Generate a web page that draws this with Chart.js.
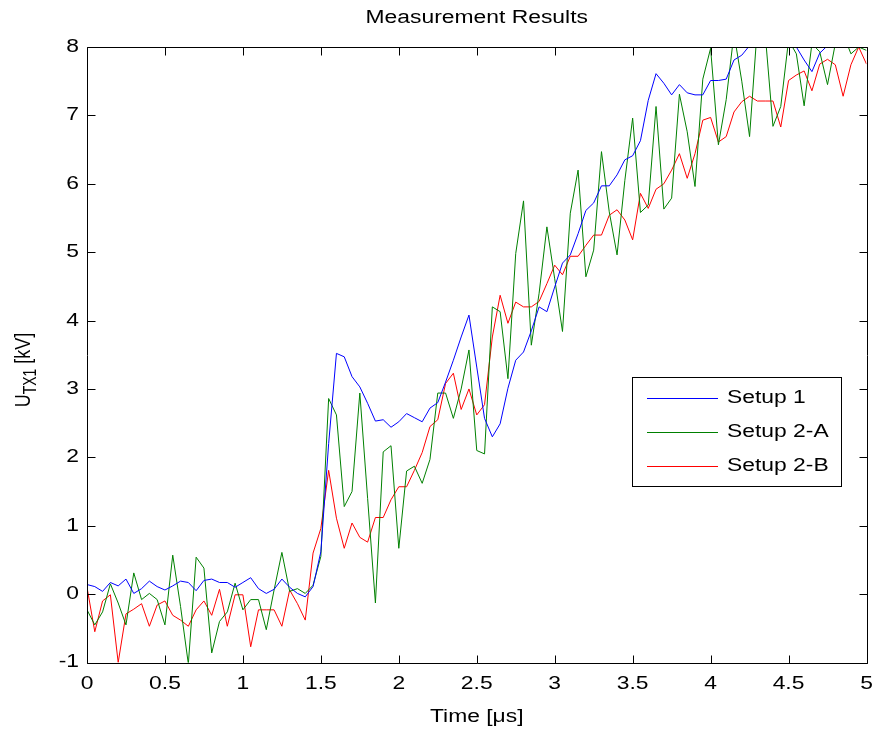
<!DOCTYPE html>
<html>
<head>
<meta charset="utf-8">
<title>Measurement Results</title>
<script src="https://cdn.jsdelivr.net/npm/chart.js@4/dist/chart.umd.min.js"></script>
<style>
  html, body { margin: 0; padding: 0; background: #ffffff; }
  #wrap { position: relative; width: 879px; height: 731px; }
</style>
</head>
<body>
<div id="wrap"><canvas id="chart"></canvas></div>
<script>
// Sample instants (µs)
const timeUs = [
  0, 0.05, 0.1, 0.15, 0.2, 0.25, 0.3, 0.35, 0.4, 0.45,
  0.5, 0.55, 0.6, 0.65, 0.7, 0.75, 0.8, 0.85, 0.9, 0.95,
  1, 1.05, 1.1, 1.15, 1.2, 1.25, 1.3, 1.35, 1.4, 1.45,
  1.5, 1.55, 1.6, 1.65, 1.7, 1.75, 1.8, 1.85, 1.9, 1.95,
  2, 2.05, 2.1, 2.15, 2.2, 2.25, 2.3, 2.35, 2.4, 2.45,
  2.5, 2.55, 2.6, 2.65, 2.7, 2.75, 2.8, 2.85, 2.9, 2.95,
  3, 3.05, 3.1, 3.15, 3.2, 3.25, 3.3, 3.35, 3.4, 3.45,
  3.5, 3.55, 3.6, 3.65, 3.7, 3.75, 3.8, 3.85, 3.9, 3.95,
  4, 4.05, 4.1, 4.15, 4.2, 4.25, 4.3, 4.35, 4.4, 4.45,
  4.5, 4.55, 4.6, 4.65, 4.7, 4.75, 4.8, 4.85, 4.9, 4.95,
  5
];

// U_TX1 in kV for each setup
const setup1 = [
  0.14, 0.11, 0.04, 0.17, 0.12, 0.22, 0.01, 0.08, 0.19, 0.11,
  0.06, 0.12, 0.19, 0.17, 0.05, 0.20, 0.22, 0.17, 0.17, 0.10,
  0.17, 0.24, 0.08, 0.01, 0.07, 0.22, 0.10, 0.01, -0.04, 0.11,
  0.62, 2.20, 3.52, 3.47, 3.18, 3.03, 2.79, 2.53, 2.55, 2.44,
  2.52, 2.64, 2.58, 2.52, 2.72, 2.80, 3.10, 3.42, 3.76, 4.08,
  3.32, 2.57, 2.30, 2.49, 3.01, 3.42, 3.54, 3.85, 4.20, 4.13,
  4.49, 4.84, 4.96, 5.27, 5.61, 5.72, 5.97, 5.97, 6.13, 6.35,
  6.41, 6.63, 7.22, 7.61, 7.47, 7.30, 7.45, 7.33, 7.30, 7.30,
  7.51, 7.51, 7.53, 7.81, 7.88, 8.02, 8.15, 8.25, 8.20, 8.15,
  8.10, 8.00, 7.81, 7.64, 7.91, 8.02, 8.12, 8.20, 8.15, 8.20,
  8.25
];
const setup2A = [
  -0.23, -0.45, -0.26, 0.15, -0.13, -0.45, 0.31, -0.08, 0.01, -0.08,
  -0.45, 0.57, -0.18, -1.02, 0.54, 0.38, -0.86, -0.40, -0.26, 0.16,
  -0.23, -0.08, -0.08, -0.52, 0.06, 0.61, 0.04, 0.08, 0.01, 0.13,
  0.55, 2.86, 2.62, 1.28, 1.50, 2.94, 1.40, -0.13, 2.08, 2.17,
  0.67, 1.80, 1.87, 1.62, 1.97, 2.94, 2.94, 2.57, 3.00, 3.57,
  2.10, 2.05, 4.20, 4.13, 3.15, 4.98, 5.75, 3.64, 4.40, 5.37,
  4.61, 3.84, 5.57, 6.20, 4.64, 5.03, 6.47, 5.59, 4.96, 6.05,
  6.96, 5.58, 5.69, 7.13, 5.63, 5.79, 7.31, 6.76, 5.96, 7.53,
  7.98, 6.57, 7.23, 8.20, 7.50, 6.69, 8.30, 8.20, 6.84, 7.13,
  8.10, 7.90, 7.14, 8.05, 7.93, 7.45, 8.05, 8.20, 7.90, 8.00,
  7.95
];
const setup2B = [
  0.10, -0.55, -0.10, -0.01, -1.00, -0.29, -0.22, -0.14, -0.47, -0.16,
  -0.10, -0.31, -0.38, -0.47, -0.23, -0.10, -0.31, 0.07, -0.47, -0.01,
  -0.01, -0.77, -0.23, -0.23, -0.23, -0.47, 0.06, -0.14, -0.38, 0.60,
  0.96, 1.81, 1.11, 0.67, 1.04, 0.83, 0.76, 1.12, 1.12, 1.38,
  1.57, 1.57, 1.81, 2.07, 2.45, 2.55, 3.08, 3.23, 2.70, 3.00,
  2.62, 2.77, 3.76, 4.37, 3.96, 4.27, 4.20, 4.20, 4.28, 4.54,
  4.81, 4.67, 4.94, 4.94, 5.10, 5.25, 5.25, 5.54, 5.62, 5.47,
  5.18, 5.86, 5.64, 5.92, 6.00, 6.20, 6.44, 6.08, 6.44, 6.93,
  6.97, 6.61, 6.69, 7.05, 7.20, 7.28, 7.21, 7.21, 7.21, 6.83,
  7.51, 7.59, 7.65, 7.36, 7.75, 7.82, 7.74, 7.28, 7.74, 8.00,
  7.75
];

const seriesNames = ['Setup 1', 'Setup 2-A', 'Setup 2-B'];
const seriesColors = ['#0000ff', '#008000', '#ff0000'];

const xTicks = [0, 0.5, 1, 1.5, 2, 2.5, 3, 3.5, 4, 4.5, 5];
const xTickLabels = ['0', '0.5', '1', '1.5', '2', '2.5', '3', '3.5', '4', '4.5', '5'];
const yTicks = [-1, 0, 1, 2, 3, 4, 5, 6, 7, 8];
const yTickLabels = ['-1', '0', '1', '2', '3', '4', '5', '6', '7', '8'];

const titleText = 'Measurement Results';
const xTitle = 'Time [\u03bcs]';

// Text styling: glyphs are drawn slightly widened
const FONT_FAMILY = '"Liberation Sans", Arial, Helvetica, sans-serif';
const FONT_PX = 18;
const STRETCH = 1.27;

function toPoints(xs, ys) {
  return xs.map((x, i) => ({ x: x, y: ys[i] }));
}

function putText(ctx, str, x, y, align, baseline, sizePx) {
  ctx.save();
  ctx.translate(x, y);
  ctx.scale(STRETCH, 1);
  ctx.font = sizePx + 'px ' + FONT_FAMILY;
  ctx.textAlign = align;
  ctx.textBaseline = baseline;
  ctx.fillStyle = '#000000';
  ctx.fillText(str, 0, 0);
  ctx.restore();
}

// Boxed axes with inward ticks, tick labels, titles and legend
const boxedAxes = {
  id: 'boxedAxes',
  afterDatasetsDraw(chart) {
    const ctx = chart.ctx;
    const area = chart.chartArea;
    const xs = chart.scales.x;
    const ys = chart.scales.y;
    const tickLen = 8;
    const L = Math.round(area.left) + 0.5;
    const R = Math.round(area.right) + 0.5;
    const T = Math.round(area.top) + 0.5;
    const B = Math.round(area.bottom) + 0.5;

    ctx.save();
    ctx.strokeStyle = '#000000';
    ctx.lineWidth = 1;
    ctx.beginPath();
    ctx.rect(L, T, R - L, B - T);
    ctx.stroke();

    ctx.beginPath();
    xTicks.forEach(v => {
      const px = Math.round(xs.getPixelForValue(v)) + 0.5;
      ctx.moveTo(px, B); ctx.lineTo(px, B - tickLen);
      ctx.moveTo(px, T); ctx.lineTo(px, T + tickLen);
    });
    yTicks.forEach(v => {
      const py = Math.round(ys.getPixelForValue(v)) + 0.5;
      ctx.moveTo(L, py); ctx.lineTo(L + tickLen, py);
      ctx.moveTo(R, py); ctx.lineTo(R - tickLen, py);
    });
    ctx.stroke();
    ctx.restore();

    // tick labels
    xTicks.forEach((v, i) => {
      putText(ctx, xTickLabels[i], xs.getPixelForValue(v), area.bottom + 13, 'center', 'top', FONT_PX);
    });
    yTicks.forEach((v, i) => {
      putText(ctx, yTickLabels[i], area.left - 8, ys.getPixelForValue(v), 'right', 'middle', FONT_PX);
    });

    // title and x-axis title
    const cx = (area.left + area.right) / 2;
    putText(ctx, titleText, cx, 18, 'center', 'middle', FONT_PX);
    putText(ctx, xTitle, cx, 717, 'center', 'middle', FONT_PX);

    // y-axis title with subscript
    ctx.save();
    ctx.translate(22, 370);
    ctx.scale(STRETCH, 1);
    ctx.rotate(-Math.PI / 2);
    ctx.fillStyle = '#000000';
    ctx.textBaseline = 'alphabetic';
    ctx.textAlign = 'left';
    const big = FONT_PX + 'px ' + FONT_FAMILY;
    const small = Math.round(FONT_PX * 0.75) + 'px ' + FONT_FAMILY;
    ctx.font = big; const w1 = ctx.measureText('U').width;
    ctx.font = small; const w2 = ctx.measureText('TX1').width;
    ctx.font = big; const w3 = ctx.measureText(' [kV]').width;
    let x0 = -(w1 + w2 + w3) / 2;
    const base = 6;
    ctx.font = big; ctx.fillText('U', x0, base); x0 += w1;
    ctx.font = small; ctx.fillText('TX1', x0, base + 5); x0 += w2;
    ctx.font = big; ctx.fillText(' [kV]', x0, base);
    ctx.restore();

    // legend
    const lg = { left: 632.5, top: 377.5, right: 841.5, bottom: 486.5 };
    ctx.save();
    ctx.fillStyle = '#ffffff';
    ctx.fillRect(lg.left, lg.top, lg.right - lg.left, lg.bottom - lg.top);
    ctx.strokeStyle = '#000000';
    ctx.lineWidth = 1;
    ctx.strokeRect(lg.left, lg.top, lg.right - lg.left, lg.bottom - lg.top);
    const rowsY = [398.5, 432.5, 466.5];
    seriesNames.forEach((name, i) => {
      ctx.strokeStyle = seriesColors[i];
      ctx.beginPath();
      ctx.moveTo(647, rowsY[i]);
      ctx.lineTo(718, rowsY[i]);
      ctx.stroke();
      putText(ctx, name, 727, rowsY[i], 'left', 'middle', FONT_PX);
    });
    ctx.restore();
  }
};

const datasets = [setup1, setup2A, setup2B].map((vals, i) => ({
  label: seriesNames[i],
  data: toPoints(timeUs, vals),
  borderColor: seriesColors[i],
  backgroundColor: seriesColors[i],
  borderWidth: 1,
  pointRadius: 0,
  tension: 0,
  fill: false
}));

new Chart(document.getElementById('chart'), {
  type: 'line',
  data: { datasets: datasets },
  options: {
    responsive: true,
    maintainAspectRatio: false,
    animation: false,
    events: [],
    layout: { padding: { left: 87, top: 47, right: 12.5, bottom: 68.5 } },
    plugins: {
      legend: { display: false },
      title: { display: false },
      tooltip: { enabled: false }
    },
    scales: {
      x: { type: 'linear', min: 0, max: 5, display: false },
      y: { type: 'linear', min: -1, max: 8, display: false }
    }
  },
  plugins: [boxedAxes]
});
</script>
</body>
</html>
